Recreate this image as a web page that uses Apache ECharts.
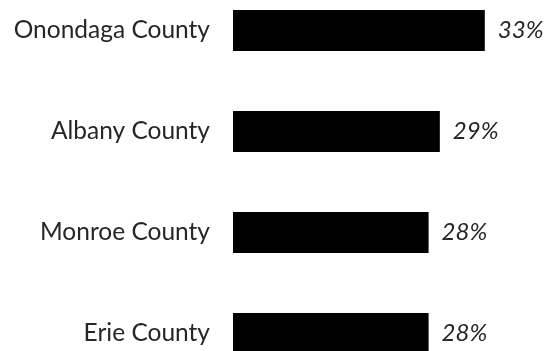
<!DOCTYPE html>
<html><head><meta charset="utf-8">
<script src="https://cdn.jsdelivr.net/npm/echarts@6/dist/echarts.min.js"></script>
<style>html,body{margin:0;padding:0;background:#fff;overflow:hidden}#c{position:absolute;left:0;top:-20px;width:552px;height:404px}</style>
</head><body><div id="c"></div>
<script>
const categories = ["Onondaga County", "Albany County", "Monroe County", "Erie County"];
const values = [33, 29, 28, 28];
const chart = echarts.init(document.getElementById('c'), null, {renderer: 'canvas'});
chart.setOption({
  animation: false,
  grid: {left: 233, right: 11, top: 0, bottom: 0, containLabel: false},
  xAxis: {type: 'value', min: 10.6, max: 38, show: false},
  yAxis: {
    type: 'category', data: categories, inverse: true,
    axisLine: {show: false}, axisTick: {show: false}, splitLine: {show: false},
    axisLabel: {margin: 23, fontFamily: 'Lato', fontSize: 24.5, color: '#262626'}
  },
  series: [{
    type: 'bar', data: values, barWidth: 41,
    itemStyle: {color: '#000'},
    label: {show: true, position: 'right', distance: 13, formatter: p => p.value + '%',
      fontFamily: 'Lato', fontStyle: 'italic', fontSize: 24, color: '#262626'}
  }]
});
</script></body></html>
